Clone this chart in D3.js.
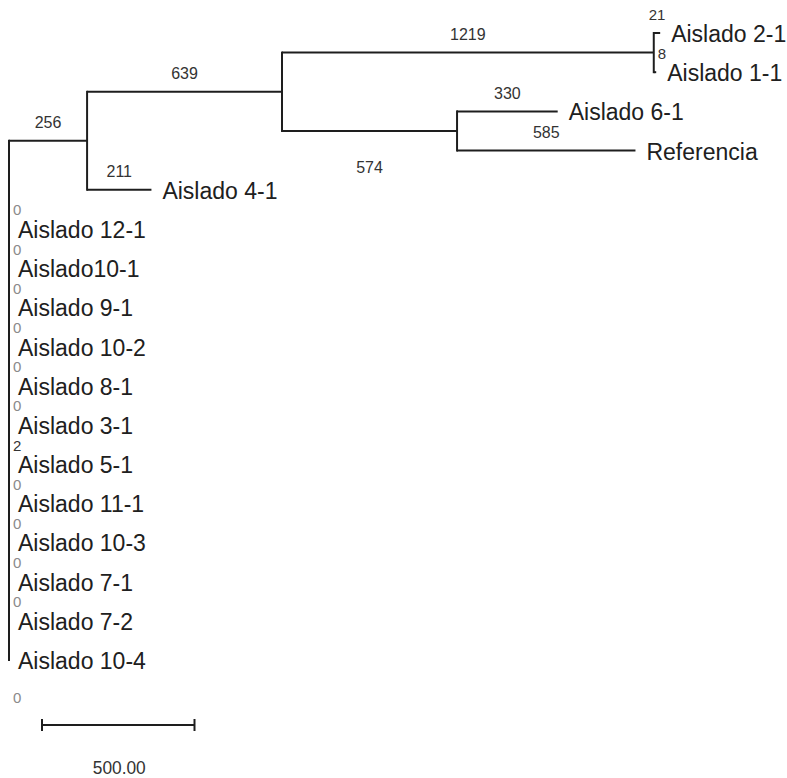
<!DOCTYPE html>
<html>
<head>
<meta charset="utf-8">
<script src="https://cdn.jsdelivr.net/npm/d3@7"></script>
<style>
  html, body { margin: 0; padding: 0; background: #fff; }
  svg { display: block; }
</style>
</head>
<body>
<svg id="chart" width="787" height="778"></svg>
<script>
// ---- data ----
const nodeIds = ["root", "B", "C", "D", "Aislado 2-1", "Aislado 1-1", "E", "Aislado 6-1", "Referencia", "Aislado 4-1",
  "Aislado 12-1", "Aislado10-1", "Aislado 9-1", "Aislado 10-2", "Aislado 8-1", "Aislado 3-1", "Aislado 5-1",
  "Aislado 11-1", "Aislado 10-3", "Aislado 7-1", "Aislado 7-2", "Aislado 10-4"];
const parentIds = [null, "root", "B", "C", "D", "D", "C", "E", "E", "B",
  "root", "root", "root", "root", "root", "root", "root",
  "root", "root", "root", "root", "root"];
const branchLengths = [0, 256, 639, 1219, 21, 8, 574, 330, 585, 211,
  0, 0, 0, 0, 0, 0, 2,
  0, 0, 0, 0, 0];
const scaleBarValue = 500;
const scaleBarLabel = "500.00";
const labelsBelow = ["E", "Aislado 10-4"];

// ---- build tree ----
const table = nodeIds.map((id, i) => ({ id, parent: parentIds[i], len: branchLengths[i] }));
const root = d3.stratify().id(d => d.id).parentId(d => d.parent)(table);
root.eachBefore(n => { n.dist = n.parent ? n.parent.dist + n.data.len : 0; });

const leaves = root.leaves();
const x = d3.scaleLinear().domain([0, 2200]).range([9, 9 + 2200 * 0.305]);
const y = d3.scaleLinear().domain([0, leaves.length - 1]).range([33, 660]);

leaves.forEach((l, i) => { l.py = y(i); });
root.eachAfter(n => {
  n.px = x(n.dist);
  if (n.children) n.py = (n.children[0].py + n.children[n.children.length - 1].py) / 2;
});

const svg = d3.select("#chart");
svg.append("rect").attr("width", 787).attr("height", 778).attr("fill", "#fff");

const g = svg.append("g");
const stroke = "#1e1e1e";

// horizontal branches
g.selectAll("line.h").data(root.descendants().filter(n => n.parent && n.data.len > 0))
  .join("line").attr("class", "h")
  .attr("x1", d => d.parent.px).attr("x2", d => d.px)
  .attr("y1", d => d.py).attr("y2", d => d.py)
  .attr("stroke", stroke).attr("stroke-width", 2);

// vertical connectors
g.selectAll("line.v").data(root.descendants().filter(n => n.children))
  .join("line").attr("class", "v")
  .attr("x1", d => d.px).attr("x2", d => d.px)
  .attr("y1", d => d.children[0].py - 1).attr("y2", d => d.children[d.children.length - 1].py + 1)
  .attr("stroke", stroke).attr("stroke-width", 2);

// leaf labels
g.selectAll("text.leaf").data(leaves)
  .join("text").attr("class", "leaf")
  .attr("x", d => d.parent.px + (d.data.len < 5 ? 9 : (d.px - d.parent.px) + 11)).attr("y", d => d.py + 1)
  .attr("dominant-baseline", "central")
  .attr("font-family", "'Liberation Sans', Arial, sans-serif")
  .attr("font-size", 23)
  .attr("fill", "#202020")
  .text(d => d.id);

// branch length labels
g.selectAll("text.bl").data(root.descendants().filter(n => n.parent))
  .join("text").attr("class", "bl")
  .each(function(d) {
    const t = d3.select(this);
    const w = d.px - d.parent.px;
    const below = labelsBelow.includes(d.id);
    const isSmall = d.data.len < 50;
    if (w < 3) {
      t.attr("x", d.parent.px + 4).attr("text-anchor", "start");
    } else {
      t.attr("x", (d.px + d.parent.px) / 2).attr("text-anchor", "middle");
    }
    t.attr("y", below ? d.py + 37 : d.py - (isSmall ? 19 : 18))
      .attr("dominant-baseline", "central")
      .attr("font-family", "'Liberation Sans', Arial, sans-serif")
      .attr("font-size", isSmall ? 15 : 16)
      .attr("fill", d.data.len === 0 ? "#8a8a8a" : "#333")
      .text(d.data.len);
  });

// scale bar
const sbX0 = 42, sbY = 725;
const sbX1 = sbX0 + (x(scaleBarValue) - x(0));
const sb = svg.append("g");
sb.append("line").attr("x1", sbX0).attr("x2", sbX1).attr("y1", sbY).attr("y2", sbY)
  .attr("stroke", stroke).attr("stroke-width", 2);
[sbX0, sbX1].forEach(px => sb.append("line").attr("x1", px).attr("x2", px)
  .attr("y1", sbY - 6).attr("y2", sbY + 6).attr("stroke", stroke).attr("stroke-width", 2));
sb.append("text").attr("x", (sbX0 + sbX1) / 2 + 1).attr("y", 767)
  .attr("text-anchor", "middle").attr("dominant-baseline", "central")
  .attr("font-family", "'Liberation Sans', Arial, sans-serif")
  .attr("font-size", 19).attr("fill", "#333")
  .attr("textLength", 53).attr("lengthAdjust", "spacingAndGlyphs")
  .text(scaleBarLabel);
</script>
</body>
</html>
